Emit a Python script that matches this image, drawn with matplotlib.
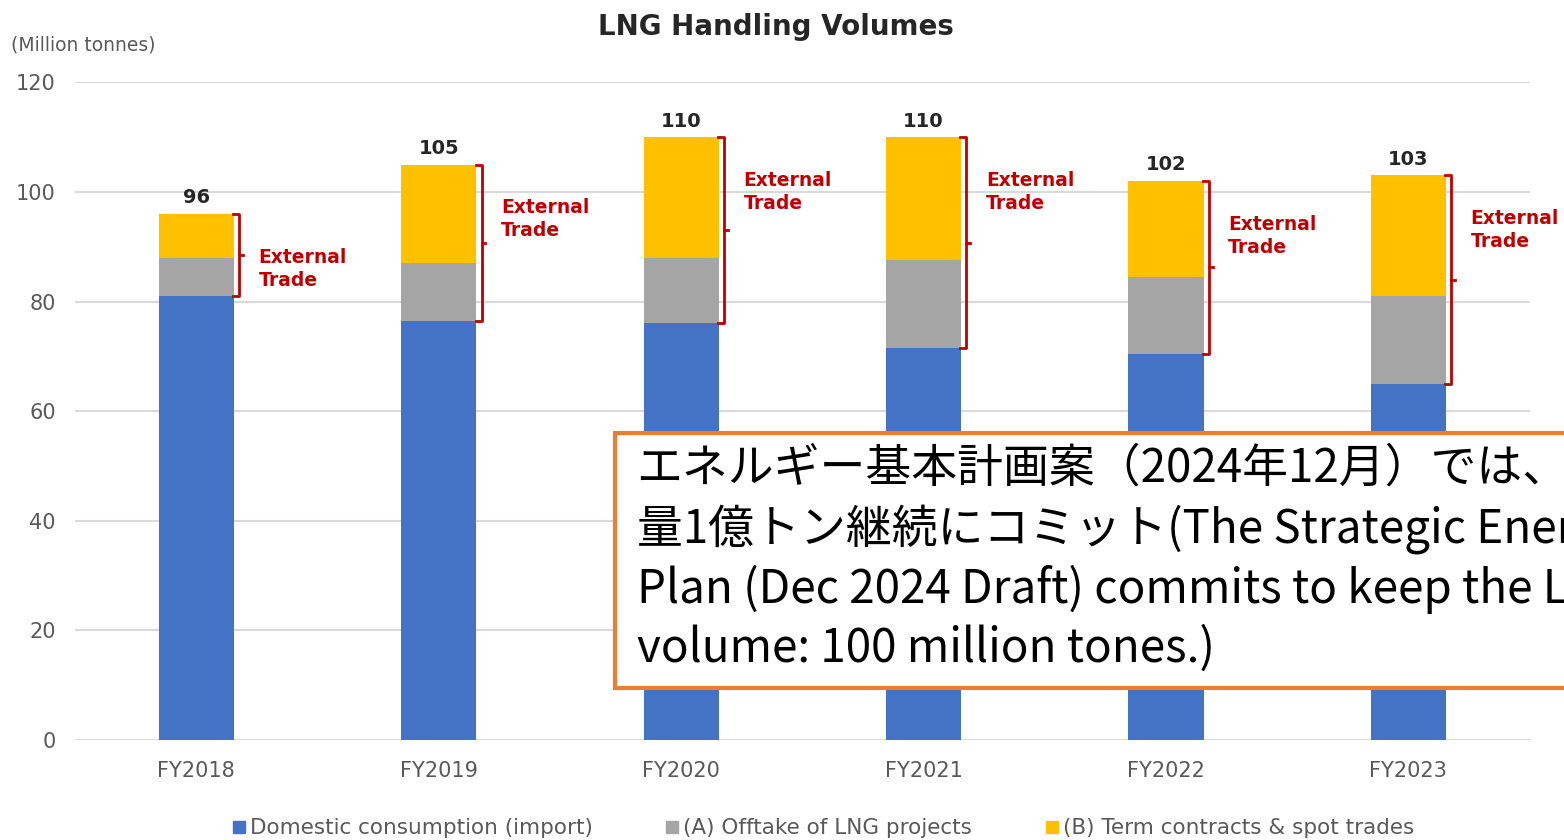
import matplotlib.pyplot as plt
from matplotlib.lines import Line2D
from matplotlib.patches import Rectangle
import numpy as np

years = ['FY2018', 'FY2019', 'FY2020', 'FY2021', 'FY2022', 'FY2023']
domestic = [81, 76.5, 76, 71.5, 70.5, 65]
offtake = [7, 10.5, 12, 16, 14, 16]
term_spot = [8, 18, 22, 22.5, 17.5, 22]
totals = [96, 105, 110, 110, 102, 103]
series_names = ['Domestic consumption (import)', '(A) Offtake of LNG projects',
                '(B) Term contracts & spot trades']

c_blue = '#4472C4'
c_gray = '#A5A5A5'
c_yellow = '#FFC000'
c_red = '#C00000'
c_tick = '#595959'

plt.rcParams['font.family'] = ['DejaVu Sans']

fig = plt.figure(figsize=(15.64, 8.4), dpi=100)
ax = fig.add_axes([0.048, 0.119, 0.930, 0.783])

x = np.arange(len(years))
w = 0.31
dom = np.array(domestic)
off = np.array(offtake)
ts = np.array(term_spot)

ax.bar(x, dom, w, color=c_blue, zorder=3)
ax.bar(x, off, w, bottom=dom, color=c_gray, zorder=3)
ax.bar(x, ts, w, bottom=dom + off, color=c_yellow, zorder=3)

# totals above bars
for i, t in enumerate(totals):
    ax.text(x[i], dom[i] + off[i] + ts[i] + 1.2, str(t), ha='center', va='bottom',
            fontsize=14, fontweight='bold', color='#262626')

# external trade brackets
for i in range(len(years)):
    top = dom[i] + off[i] + ts[i]
    bot = dom[i]
    mid = (top + bot) / 2
    bx = x[i] + w / 2 + 0.022
    h = 0.025
    ax.plot([bx - h, bx, bx, bx - h], [top, top, bot, bot], color=c_red, lw=2,
            zorder=4, solid_joinstyle='round')
    ax.plot([bx, bx + 0.015], [mid, mid], color=c_red, lw=2, zorder=4)
    ax.text(bx + 0.08, top - 10, 'External\nTrade', ha='left', va='center',
            fontsize=13.5, fontweight='bold', color=c_red, linespacing=1.25,
            clip_on=False)

ax.set_xlim(-0.5, 5.5)
ax.set_ylim(0, 120)
ax.set_yticks(range(0, 121, 20))
ax.set_xticks(x)
ax.set_xticklabels(years)
ax.tick_params(axis='both', length=0, labelsize=15, labelcolor=c_tick)
ax.tick_params(axis='x', pad=15)
ax.tick_params(axis='y', pad=14)
ax.grid(axis='y', color='#D9D9D9', lw=1.5, zorder=0)
for s in ax.spines.values():
    s.set_visible(False)

fig.text(0.496, 0.968, 'LNG Handling Volumes', ha='center', va='center',
         fontsize=20, fontweight='bold', color='#262626')
fig.text(0.007, 0.946, '(Million tonnes)', ha='left', va='center',
         fontsize=13.5, color=c_tick)

handles = [Line2D([], [], marker='s', ls='', color=c, markersize=8)
           for c in (c_blue, c_gray, c_yellow)]
fig.legend(handles, series_names, loc='center', bbox_to_anchor=(0.525, 0.014),
           ncol=3, frameon=False, fontsize=15.5, labelcolor=c_tick,
           handletextpad=0.0, columnspacing=3.2, handlelength=1.0)

# orange note box (runs off the right edge like the source)
fig.patches.append(Rectangle((0.393, 0.181), 0.7, 0.3035, transform=fig.transFigure,
                             facecolor='white', edgecolor='#ED7D31', lw=3, zorder=10))
note = ('エネルギー基本計画案（2024年12月）では、LNG取扱\n'
        '量1億トン継続にコミット(The Strategic Energy\n'
        'Plan (Dec 2024 Draft) commits to keep the LNG handling\n'
        'volume: 100 million tones.)')
fig.text(0.407, 0.471, note, ha='left', va='top', fontsize=33,
         family=['Noto Sans CJK JP', 'DejaVu Sans'], color='black',
         linespacing=1.28, zorder=11)

fig.savefig('out.png', dpi=100)
